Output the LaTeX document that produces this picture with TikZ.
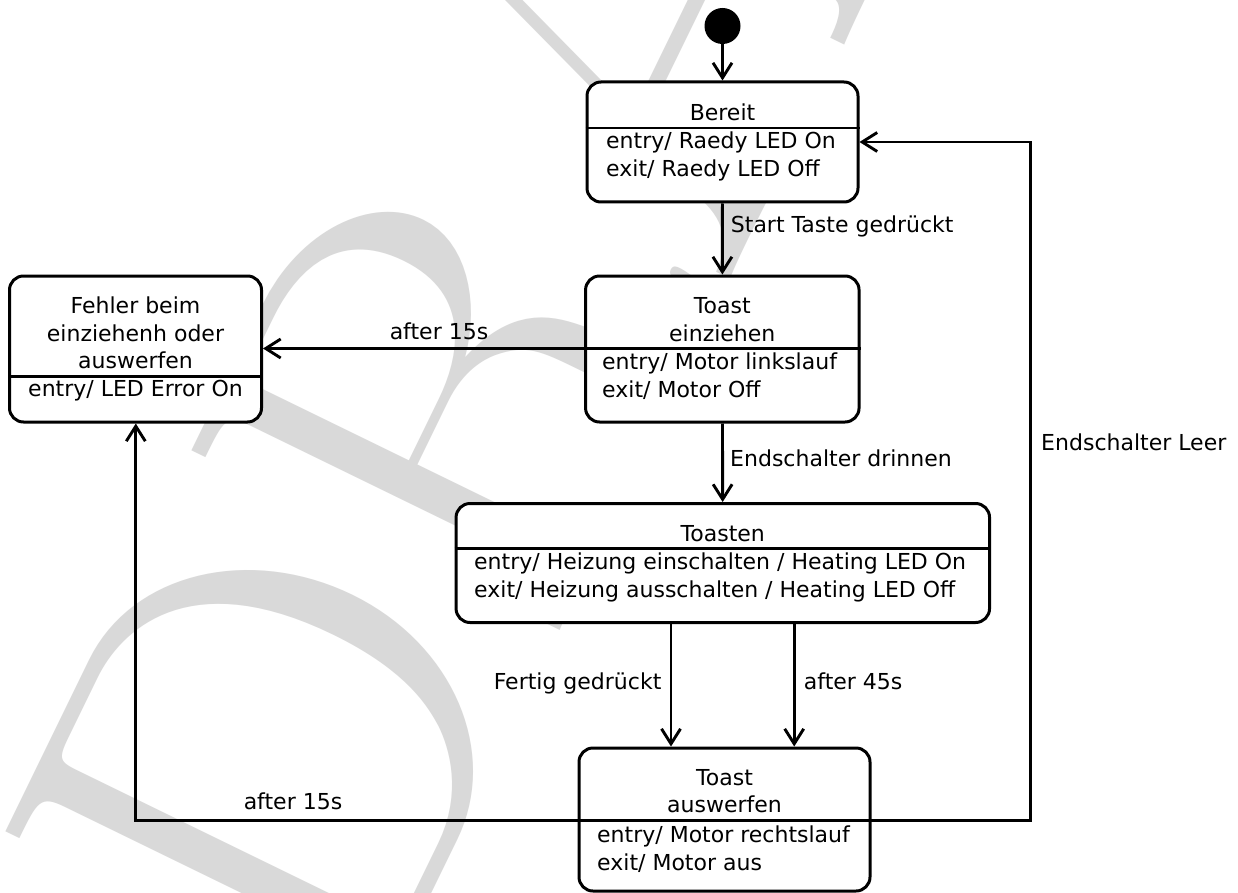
\documentclass[tikz,border=0pt]{standalone}
\usepackage{fontspec}
\setmainfont{DejaVu Sans}
\newfontfamily\wmfont{Latin Modern Roman}
\usetikzlibrary{arrows.meta}
\begin{document}
\begin{tikzpicture}[x=1pt,y=-1pt,
  state/.style={draw, line width=3pt, rounded corners=14pt, fill=white, inner sep=0pt},
  sep/.style={line width=2.6pt},
  txt/.style={font=\fontsize{22}{28}\selectfont, inner sep=0pt, anchor=base},
  ltxt/.style={txt, anchor=base west},
  rtxt/.style={txt, anchor=base east},
  arr/.style={line width=2.9pt, -{Straight Barb[length=15pt,width=19pt]}},
  wm/.style={text=black!15, inner sep=0pt, font=\wmfont\fontsize{600}{600}\selectfont}
]
\useasboundingbox (0,0) rectangle (1238,893);
\fill[white] (0,0) rectangle (1238,893);
\begin{scope}
\clip (0,0) rectangle (1238,893);
\node[wm, rotate=64, anchor=base west] (wmark) at (360,1040) {DRAFT};
\end{scope}

% initial state
\node[circle, fill=black, minimum size=36pt, inner sep=0pt] (init) at (722.5,26) {};

% states
\node[state, minimum width=271pt, minimum height=120pt] (bereit) at (722.5,142) {};
\node[state, minimum width=273.5pt, minimum height=146pt] (einz) at (722.3,349) {};
\node[state, minimum width=252pt, minimum height=146pt] (fehler) at (135.5,349) {};
\node[state, minimum width=533.5pt, minimum height=119pt] (toasten) at (722.8,563) {};
\node[state, minimum width=291pt, minimum height=143pt] (ausw) at (724.5,819.5) {};

% separators
\coordinate (sb) at (0,128);
\coordinate (se) at (0,348.5);
\coordinate (sf) at (0,376.5);
\coordinate (st) at (0,548.5);
\coordinate (hl) at (0,820.6);
\draw[sep] (bereit.west |- sb) -- (bereit.east |- sb);
\draw[sep] (einz.west |- se) -- (einz.east |- se);
\draw[sep] (fehler.west |- sf) -- (fehler.east |- sf);
\draw[sep] (toasten.west |- st) -- (toasten.east |- st);
\draw[sep] (ausw.west |- hl) -- (ausw.east |- hl);

% state texts
\node[txt] (t1) at (722.5,120.7) {Bereit};
\node[ltxt] (t2) at (606,148.5) {entry/ Raedy LED On};
\node[ltxt] (t3) at (606,176.5) {exit/ Raedy LED Off};

\node[txt] (t4) at (722.3,313) {Toast};
\node[txt] (t5) at (722.3,341) {einziehen};
\node[ltxt] (t6) at (602,369.5) {entry/ Motor linkslauf};
\node[ltxt] (t7) at (602,397.5) {exit/ Motor Off};

\node[txt] (t8) at (135.5,313.5) {Fehler beim};
\node[txt] (t9) at (135.5,341.5) {einziehenh oder};
\node[txt] (t10) at (135.5,368.5) {auswerfen};
\node[txt] (t11) at (135.5,396.5) {entry/ LED Error On};

\node[txt] (t12) at (722.8,541.5) {Toasten};
\node[ltxt] (t13) at (474,569.5) {entry/ Heizung einschalten / Heating LED On};
\node[ltxt] (t14) at (474,597) {exit/ Heizung ausschalten / Heating LED Off};

\node[txt] (t15) at (724.5,785) {Toast};
\node[txt] (t16) at (724.5,812.5) {auswerfen};
\node[ltxt] (t17) at (597,842) {entry/ Motor rechtslauf};
\node[ltxt] (t18) at (597,870) {exit/ Motor aus};

% helper coordinates
\coordinate (xa) at (671,0);
\coordinate (xb) at (794.2,0);
\coordinate (xl) at (135.8,0);
\coordinate (xr) at (1030.3,0);

% transitions
\draw[arr] (init) -- (bereit);
\draw[arr] (bereit) -- (einz);
\draw[arr] (einz.west |- se) -- (fehler.east |- se);
\draw[arr] (einz) -- (toasten);
\draw[arr] (toasten.south -| xa) -- (ausw.north -| xa);
\draw[arr] (toasten.south -| xb) -- (ausw.north -| xb);
\draw[arr] (ausw.west |- hl) -| (fehler.south -| xl);
\draw[arr] (ausw.east |- hl) -| (xr |- bereit.east) -- (bereit.east);

% transition labels
\node[ltxt] (l1) at (730.7,233) {Start Taste gedrückt};
\node[txt] (l2) at (439,339) {after 15s};
\node[ltxt] (l3) at (730,466) {Endschalter drinnen};
\node[ltxt] (l4) at (1041,450) {Endschalter Leer};
\node[rtxt] (l5) at (661.6,689) {Fertig gedrückt};
\node[ltxt] (l6) at (803.7,689) {after 45s};
\node[txt] (l7) at (293,809) {after 15s};
\end{tikzpicture}
\end{document}
